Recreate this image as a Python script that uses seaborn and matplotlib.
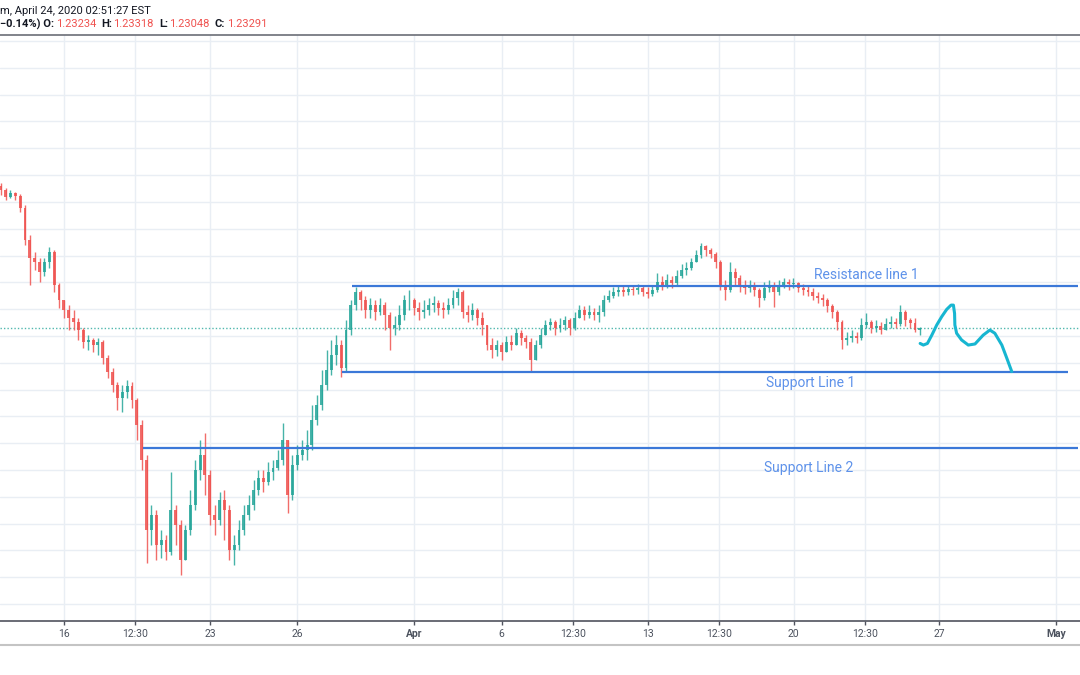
import numpy as np
import pandas as pd
import matplotlib
matplotlib.use("Agg")
import matplotlib.pyplot as plt
from matplotlib.lines import Line2D
import seaborn as sns

# ---------------- data (prices in pips, 1 pip = 0.0001) ----------------
first_day = -2.17          # trading-day index of first candle (0 = Mar 16)
candles_per_day = 6
first_open = 12859

close_pips = [
    12844, 12818, 12833, 12822, 12777, 12658, 12591, 12576, 12538, 12576,
    12613, 12490, 12434, 12397, 12367, 12352, 12322, 12277, 12285, 12266,
    12277, 12218, 12165, 12117, 12068, 12091, 12113, 12061, 11968, 11837,
    11576, 11632, 11520, 11539, 11494, 11651, 11595, 11464, 11576, 11669,
    11800, 11856, 11781, 11632, 11613, 11688, 11651, 11502, 11520, 11576,
    11632, 11669, 11725, 11770, 11755, 11792, 11807, 11837, 11912, 11707,
    11819, 11856, 11875, 11893, 11986, 12042, 12117, 12173, 12229, 12266,
    12180, 12322, 12415, 12464, 12434, 12397, 12415, 12389, 12415, 12378,
    12330, 12341, 12378, 12434, 12434, 12404, 12389, 12397, 12415, 12423,
    12404, 12397, 12415, 12441, 12464, 12389, 12378, 12397, 12367, 12341,
    12266, 12248, 12266, 12240, 12277, 12266, 12311, 12292, 12277, 12210,
    12266, 12303, 12341, 12352, 12330, 12341, 12360, 12330, 12367, 12397,
    12378, 12389, 12378, 12389, 12434, 12449, 12464, 12471, 12464, 12475,
    12471, 12479, 12464, 12456, 12471, 12501, 12490, 12509, 12497, 12523,
    12546, 12553, 12576, 12602, 12635, 12620, 12606, 12576, 12490, 12471,
    12538, 12516, 12490, 12479, 12490, 12471, 12441, 12479, 12486, 12464,
    12490, 12501, 12494, 12497, 12479, 12471, 12464, 12449, 12441, 12434,
    12412, 12389, 12352, 12285, 12292, 12300, 12292, 12341, 12352, 12330,
    12337, 12322, 12345, 12352, 12345, 12389, 12360, 12348, 12323, 12329,
]
high_pips = [
    12870, 12852, 12844, 12837, 12829, 12788, 12676, 12613, 12591, 12591,
    12632, 12620, 12497, 12434, 12415, 12397, 12367, 12330, 12303, 12292,
    12292, 12285, 12229, 12180, 12128, 12117, 12136, 12128, 12068, 11986,
    11856, 11669, 11651, 11576, 11558, 11792, 11669, 11613, 11595, 11725,
    11837, 11912, 11938, 11800, 11669, 11718, 11725, 11669, 11558, 11613,
    11669, 11707, 11763, 11800, 11800, 11830, 11837, 11875, 11975, 11912,
    11856, 11893, 11912, 11949, 12042, 12080, 12173, 12248, 12285, 12303,
    12285, 12360, 12434, 12483, 12471, 12449, 12441, 12434, 12441, 12427,
    12389, 12374, 12415, 12453, 12471, 12441, 12427, 12434, 12441, 12449,
    12434, 12427, 12441, 12471, 12479, 12471, 12415, 12423, 12404, 12389,
    12341, 12292, 12285, 12277, 12300, 12303, 12330, 12322, 12303, 12292,
    12285, 12330, 12360, 12367, 12360, 12367, 12374, 12367, 12389, 12415,
    12412, 12415, 12404, 12415, 12453, 12471, 12483, 12486, 12486, 12490,
    12486, 12494, 12490, 12483, 12490, 12535, 12523, 12531, 12523, 12546,
    12568, 12576, 12591, 12620, 12647, 12639, 12628, 12613, 12583, 12509,
    12576, 12553, 12527, 12509, 12509, 12501, 12479, 12501, 12509, 12501,
    12509, 12516, 12512, 12516, 12501, 12494, 12486, 12479, 12464, 12456,
    12441, 12419, 12397, 12360, 12315, 12322, 12315, 12367, 12385, 12360,
    12360, 12352, 12367, 12374, 12367, 12415, 12397, 12367, 12367, 12332,
]
low_pips = [
    12826, 12807, 12814, 12807, 12762, 12639, 12490, 12546, 12501, 12523,
    12553, 12464, 12404, 12367, 12322, 12322, 12285, 12255, 12248, 12240,
    12229, 12195, 12143, 12091, 12024, 12016, 12068, 12031, 11912, 11800,
    11453, 11520, 11464, 11472, 11464, 11483, 11520, 11408, 11464, 11558,
    11651, 11763, 11707, 11595, 11558, 11595, 11539, 11464, 11446, 11502,
    11558, 11613, 11651, 11707, 11718, 11744, 11763, 11800, 11819, 11640,
    11688, 11800, 11837, 11837, 11875, 11968, 12024, 12099, 12154, 12192,
    12147, 12165, 12303, 12397, 12397, 12367, 12367, 12360, 12378, 12322,
    12248, 12303, 12322, 12360, 12397, 12378, 12360, 12367, 12378, 12389,
    12378, 12367, 12382, 12404, 12415, 12367, 12352, 12360, 12341, 12303,
    12248, 12218, 12225, 12210, 12240, 12248, 12266, 12266, 12255, 12165,
    12218, 12255, 12303, 12322, 12303, 12315, 12322, 12303, 12322, 12367,
    12360, 12367, 12360, 12352, 12374, 12427, 12441, 12449, 12449, 12453,
    12453, 12456, 12449, 12441, 12449, 12464, 12471, 12479, 12479, 12490,
    12516, 12527, 12546, 12576, 12591, 12598, 12591, 12553, 12471, 12434,
    12464, 12490, 12464, 12456, 12464, 12449, 12408, 12434, 12464, 12408,
    12453, 12479, 12471, 12479, 12464, 12453, 12449, 12434, 12423, 12412,
    12389, 12367, 12322, 12251, 12266, 12277, 12274, 12285, 12330, 12311,
    12315, 12307, 12322, 12330, 12330, 12337, 12337, 12330, 12315, 12305,
]

current_price = 1.2329
resistance_1 = 1.2487
support_1 = 1.2165
support_2 = 1.1882
level_names = ["Resistance line 1", "Support Line 1", "Support Line 2"]

# hand-drawn forecast path (day, price)
draw_days = [29.34, 29.45, 29.59, 29.74, 29.91, 30.08, 30.25, 30.40, 30.48, 30.52, 30.53,
             30.59, 30.76, 30.99, 31.22, 31.50, 31.73, 31.90, 32.14, 32.31, 32.48]
draw_price = [1.2272, 1.2266, 1.2272, 1.2303, 1.2341, 1.2372, 1.2399, 1.2415, 1.2415, 1.2384,
              1.2341, 1.2310, 1.2285, 1.2266, 1.2270, 1.2303, 1.2322, 1.2310, 1.2266, 1.2217, 1.2167]

tick_days = [0, 2.45, 5, 8, 12, 15, 17.45, 20, 22.45, 25, 27.45, 30, 34]
tick_labels = ["16", "12:30", "23", "26", "Apr", "6", "12:30", "13", "12:30", "20", "12:30", "27", "May"]

header_1 = "m, April 24, 2020 02:51:27 EST"
header_2 = [("\u22120.14%) O:", "dark"), ("1.23234", "red"), ("H:", "dark"), ("1.23318", "red"),
            ("L:", "dark"), ("1.23048", "red"), ("C:", "dark"), ("1.23291", "red")]

# ---------------- build table ----------------
c = np.array(close_pips) / 1e4
h = np.array(high_pips) / 1e4
l = np.array(low_pips) / 1e4
o = np.concatenate([[first_open / 1e4], c[:-1]])
h = np.maximum(h, np.maximum(o, c))
l = np.minimum(l, np.minimum(o, c))
x = first_day + np.arange(len(c)) / candles_per_day
df = pd.DataFrame({"day": x, "open": o, "high": h, "low": l, "close": c})
df["up"] = df["close"] >= df["open"]

# ---------------- figure ----------------
sns.set_theme(style="white")
plt.rcParams['font.family'] = ['Roboto', 'DejaVu Sans']

W, H = 1080, 675
PX_PER_DAY = 29.18
fig = plt.figure(figsize=(10.8, 6.75), dpi=100)
ax = fig.add_axes([0, (H - 621) / H, 1, (621 - 35) / H])
ax.set_xlim(-64 / PX_PER_DAY, (W - 64) / PX_PER_DAY)
ax.set_ylim(1.12367, 1.34225)

grid_col = "#e9eef4"
for gy in np.arange(1.13, 1.3451, 0.01):
    ax.axhline(gy, color=grid_col, lw=1, zorder=0)
for gx in tick_days:
    ax.axvline(gx, color=grid_col, lw=1, zorder=0)

up_col, dn_col = "#26a69a", "#ef5350"
cols = np.where(df["up"], up_col, dn_col)
ax.vlines(df["day"], df["low"], df["high"], colors=cols, lw=1.0, alpha=0.85, zorder=2)
body_bottom = np.minimum(df["open"], df["close"])
body_h = np.maximum(np.abs(df["close"] - df["open"]), 0.00012)
ax.bar(df["day"], body_h, bottom=body_bottom, width=0.1, color=cols, lw=0, alpha=0.85, zorder=3)

# current price dotted line
ax.axhline(current_price, color="#26a69a", lw=1, ls=(0, (1, 1.5)), alpha=0.8, zorder=1)

# support / resistance
line_col = "#3b78d8"
lab_col = "#5e92ea"
d = lambda px: (px - 64) / PX_PER_DAY
ax.hlines(resistance_1, d(352), d(1078), color=line_col, lw=1.6, zorder=4)
ax.hlines(support_1, d(342), d(1068), color=line_col, lw=1.6, zorder=4)
ax.hlines(support_2, d(143), d(1078), color=line_col, lw=1.6, zorder=4)
ax.text(27.48, 1.2527, level_names[0], ha="center", va="center", color=lab_col, fontsize=10)
ax.text(25.6, 1.2124, level_names[1], ha="center", va="center", color=lab_col, fontsize=10)
ax.text(25.53, 1.1807, level_names[2], ha="center", va="center", color=lab_col, fontsize=10)

# hand-drawn path
sns.lineplot(x=draw_days, y=draw_price, sort=False, estimator=None, color="#17b6d1",
             lw=2.2, ax=ax, zorder=5)

# axes decoration
for s in ["left", "right"]:
    ax.spines[s].set_visible(False)
ax.spines["top"].set_color("#6b6e77")
ax.spines["top"].set_linewidth(1.2)
ax.spines["bottom"].set_color("#50535e")
ax.spines["bottom"].set_linewidth(1.2)
ax.set_yticks([])
ax.set_xticks(tick_days)
ax.set_xticklabels(tick_labels)
ax.tick_params(axis="x", direction="out", length=3, width=1, color="#50535e",
               labelsize=7.5, labelcolor="#4c525e", pad=2.5, bottom=True)
for t in ax.get_xticklabels():
    if t.get_text() in ("Apr", "May"):
        t.set_fontweight("bold")
ax.set_xlabel("")
ax.set_ylabel("")

fig.add_artist(Line2D([0, 1], [1 - 645 / H] * 2, color="#c4c4c4", lw=1.5))

# header texts
fig.canvas.draw()
r = fig.canvas.get_renderer()
fig.text(0, 1 - 11 / H, header_1, color="#131722", fontsize=8, va="center", ha="left")
xpos = 0.0
colmap = {"dark": "#131722", "red": "#ef5350"}
for s, k in header_2:
    t = fig.text(xpos / W, 1 - 24 / H, s, color=colmap[k], fontsize=8, va="center", ha="left",
                 fontweight="bold" if k == "dark" else "normal")
    bb = t.get_window_extent(renderer=r)
    xpos += bb.width + (1.5 if k == "dark" else 5)

fig.savefig("out.png", dpi=100)
